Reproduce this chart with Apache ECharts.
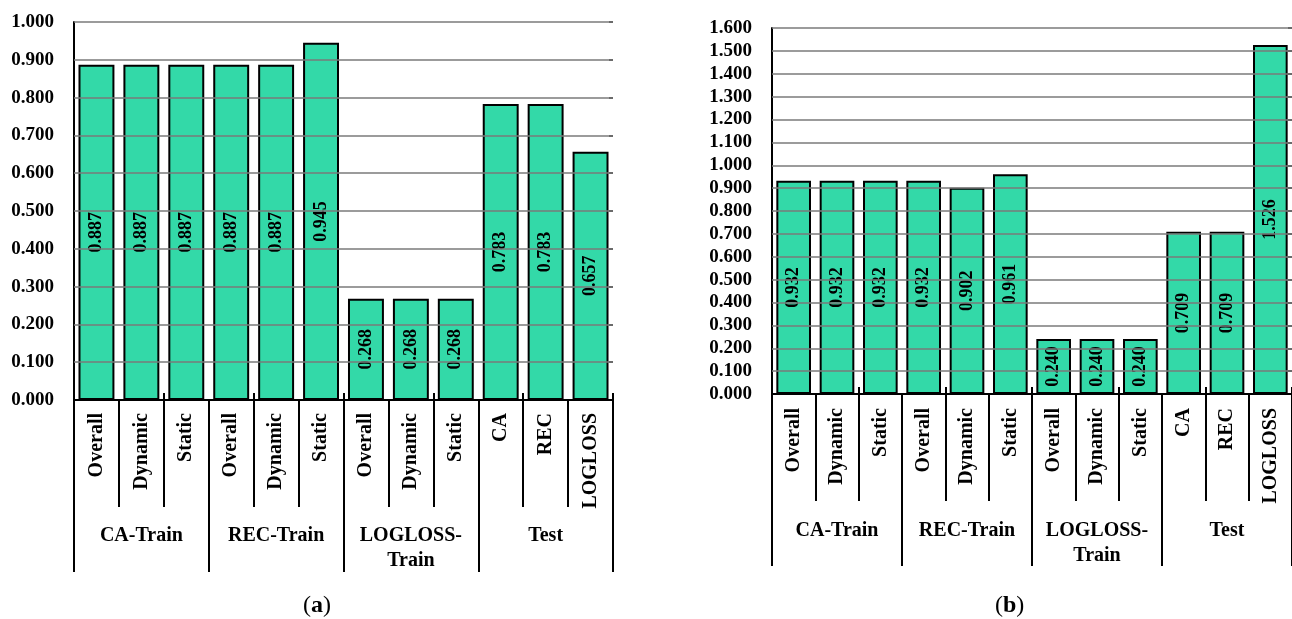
<!DOCTYPE html>
<html>
<head>
<meta charset="utf-8">
<style>
  html, body { margin: 0; padding: 0; background: #ffffff; }
  #chart { width: 1292px; height: 619px; }
</style>
<script src="https://cdn.jsdelivr.net/npm/echarts@6/dist/echarts.min.js"></script>
</head>
<body>
<div id="chart"></div>
<script>
// Metric breakdown per training objective, plus test scores
const subCategories = ['Overall', 'Dynamic', 'Static', 'Overall', 'Dynamic', 'Static',
                       'Overall', 'Dynamic', 'Static', 'CA', 'REC', 'LOGLOSS'];
const groupCategories = ['CA-Train', 'REC-Train', 'LOGLOSS-\nTrain', 'Test'];

// Panel (a)
const valuesA = [0.887, 0.887, 0.887, 0.887, 0.887, 0.945, 0.268, 0.268, 0.268, 0.783, 0.783, 0.657];
// Panel (b)
const valuesB = [0.932, 0.932, 0.932, 0.932, 0.902, 0.961, 0.240, 0.240, 0.240, 0.709, 0.709, 1.526];

// Value-axis ranges
const maxA = 1.0;
const maxB = 1.6;
const tickStep = 0.1;

const FONT = "'Liberation Serif', 'DejaVu Serif', serif";
const BAR_COLOR = '#33d9a8';
const GRID_COLOR = '#7a7a7a';

// Tick levels (above zero) where horizontal grid lines are drawn
function gridLevels(max) {
  const out = [];
  const n = Math.round(max / tickStep);
  for (let i = 1; i <= n; i++) out.push({ yAxis: +(i * tickStep).toFixed(3) });
  return out;
}

function panelAxes(gridIndex, subMargin, groupOffset, groupMargin) {
  return [
    { // sub-category axis with long separators
      type: 'category', gridIndex, data: subCategories, position: 'bottom',
      axisLine: { show: true, onZero: false, lineStyle: { color: '#000', width: 2 } },
      axisTick: { show: true, inside: false, length: groupOffset, lineStyle: { color: '#000', width: 2 } },
      axisLabel: { rotate: 90, margin: subMargin, color: '#000', fontFamily: FONT,
                   fontWeight: 'bold', fontSize: 20, interval: 0 }
    },
    { // group axis below the sub-categories
      type: 'category', gridIndex, data: groupCategories, position: 'bottom', offset: groupOffset,
      axisLine: { show: false, onZero: false },
      axisTick: { show: true, length: 65, lineStyle: { color: '#000', width: 2 } },
      axisLabel: { margin: groupMargin, color: '#000', fontFamily: FONT, fontWeight: 'bold',
                   fontSize: 20, lineHeight: 25, verticalAlign: 'top', interval: 0 }
    },
    { // short inner ticks on the baseline
      type: 'category', gridIndex, data: subCategories, position: 'bottom',
      axisLine: { show: false, onZero: false },
      axisTick: { show: true, inside: true, length: 7, lineStyle: { color: '#000', width: 2 } },
      axisLabel: { show: false }
    }
  ];
}

function valueAxes(gridIndex, max) {
  return [
    {
      type: 'value', gridIndex, min: 0, max: max, interval: tickStep,
      axisLine: { show: true, onZero: false, lineStyle: { color: '#000', width: 2 } },
      axisTick: { show: false },
      splitLine: { show: false },
      axisLabel: { margin: 20, color: '#000', fontFamily: FONT, fontWeight: 'bold', fontSize: 19,
                   formatter: v => v.toFixed(3) }
    },
    { // right edge: short tick stubs only
      type: 'value', gridIndex, min: 0, max: max, interval: tickStep, position: 'right',
      axisLine: { show: false, onZero: false },
      axisTick: { show: true, inside: true, length: 4, lineStyle: { color: '#000', width: 1.5 } },
      splitLine: { show: false },
      axisLabel: { show: false }
    }
  ];
}

// Bars with rotated value labels; grid lines are laid over them as a mark line
function barSeries(data, xIndex, yIndex, max) {
  return {
    type: 'bar', xAxisIndex: xIndex, yAxisIndex: yIndex, data: data,
    barCategoryGap: '20%',
    itemStyle: { color: BAR_COLOR, borderColor: '#000', borderWidth: 2 },
    label: { show: true, position: 'inside', rotate: 90, color: '#000', fontFamily: FONT,
             fontWeight: 'bold', fontSize: 18, formatter: p => p.value.toFixed(3) },
    markLine: {
      silent: true, symbol: 'none', animation: false,
      label: { show: false },
      lineStyle: { color: GRID_COLOR, width: 1.5, type: 'solid', opacity: 1 },
      data: gridLevels(max)
    }
  };
}

const chart = echarts.init(document.getElementById('chart'), null, { renderer: 'canvas' });
chart.setOption({
  backgroundColor: '#ffffff',
  animation: false,
  grid: [
    { left: 74, top: 22, width: 539, height: 378, containLabel: false },
    { left: 772, top: 28, width: 528, height: 366, containLabel: false }
  ],
  xAxis: [
    ...panelAxes(0, 13, 107, 16),
    ...panelAxes(1, 14, 107, 17)
  ],
  yAxis: [...valueAxes(0, maxA), ...valueAxes(1, maxB)],
  series: [
    barSeries(valuesA, 0, 0, maxA),
    barSeries(valuesB, 3, 2, maxB)
  ],
  graphic: [
    { type: 'text', left: 303, top: 594,
      style: { text: '({b|a})', font: "24px " + FONT, fill: '#000',
               rich: { b: { fontWeight: 'bold', fontSize: 24, fontFamily: FONT } } } },
    { type: 'text', left: 995, top: 594,
      style: { text: '({b|b})', font: "24px " + FONT, fill: '#000',
               rich: { b: { fontWeight: 'bold', fontSize: 24, fontFamily: FONT } } } }
  ]
});
</script>
</body>
</html>
